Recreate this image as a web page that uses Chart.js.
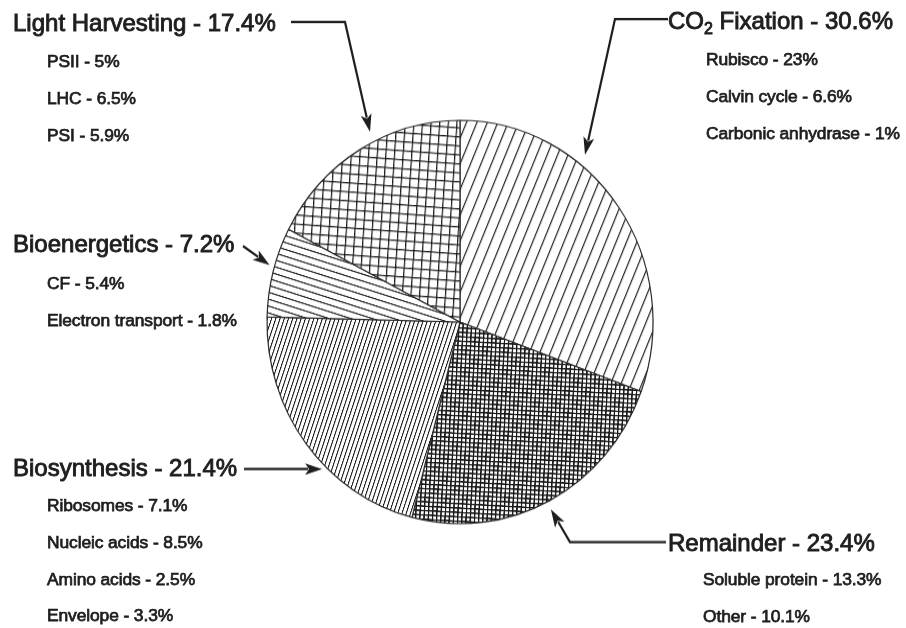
<!DOCTYPE html>
<html><head><meta charset="utf-8">
<script src="https://cdn.jsdelivr.net/npm/chart.js@4.4.0/dist/chart.umd.min.js"></script>
<style>
html,body{margin:0;padding:0;background:#fff;}
#wrap{position:relative;width:906px;height:628px;overflow:hidden;background:#fff;}
#c{position:absolute;left:0;top:0;transform-origin:460px 322px;transform:scaleY(1.045);}
.lbl{position:absolute;white-space:nowrap;color:#1e1e1e;font-family:"Liberation Sans",Arial,Helvetica,sans-serif;line-height:1;}
.main{font-size:24px;-webkit-text-stroke:0.9px #1e1e1e;}
.sub{font-size:17.4px;-webkit-text-stroke:0.75px #1e1e1e;letter-spacing:-0.1px;}
.main sub{font-size:16px;vertical-align:-5px;line-height:0;}
</style></head>
<body><div id="wrap"><canvas id="c" width="906" height="628"></canvas></div>
<script>
// ---- data ----
const categories = ['CO2 Fixation', 'Remainder', 'Biosynthesis', 'Bioenergetics', 'Light Harvesting'];
const shares = [30.6, 23.4, 21.4, 7.2, 17.4];

const co2Parts = ['Rubisco', 'Calvin cycle', 'Carbonic anhydrase'];
const co2Values = [23, 6.6, 1];
const remainderParts = ['Soluble protein', 'Other'];
const remainderValues = [13.3, 10.1];
const biosynthesisParts = ['Ribosomes', 'Nucleic acids', 'Amino acids', 'Envelope'];
const biosynthesisValues = [7.1, 8.5, 2.5, 3.3];
const bioenergeticsParts = ['CF', 'Electron transport'];
const bioenergeticsValues = [5.4, 1.8];
const lightHarvestingParts = ['PSII', 'LHC', 'PSI'];
const lightHarvestingValues = [5, 6.5, 5.9];

// ---- layout (positions only) ----
const CX = 460, CY = 322, SY = 1.045;
const labelLayout = [
  {i: 0, parts: co2Parts, values: co2Values, x: 668, base: 29, subX: 706, subBase: [66, 103, 140]},
  {i: 1, parts: remainderParts, values: remainderValues, x: 668, base: 551, subX: 703, subBase: [586, 623]},
  {i: 2, parts: biosynthesisParts, values: biosynthesisValues, x: 13, base: 476, subX: 47, subBase: [512, 549, 586, 622]},
  {i: 3, parts: bioenergeticsParts, values: bioenergeticsValues, x: 13, base: 252, subX: 47, subBase: [290, 327]},
  {i: 4, parts: lightHarvestingParts, values: lightHarvestingValues, x: 13, base: 31, subX: 47, subBase: [68, 105, 141.7]}
];
const arrowSpecs = [
  {index: 0, frac: 0.345, gap: 10, path: [[668, 19], [615, 19]]},
  {index: 1, frac: 0.51, gap: 8, path: [[666, 542], [570, 542]]},
  {index: 2, frac: 0.39, gap: 4, path: [[244, 469]]},
  {index: 3, frac: 0.56, gap: 5, path: [[243, 246]]},
  {index: 4, frac: 0.58, gap: 10, path: [[291, 22], [345, 22]]}
];

// ---- text labels ----
const wrap = document.getElementById('wrap');
function addLabel(html, cls, x, base, size) {
  const d = document.createElement('div');
  d.className = 'lbl ' + cls;
  d.innerHTML = html;
  d.style.left = x + 'px';
  d.style.top = (base - 0.8465 * size) + 'px';
  wrap.appendChild(d);
}
labelLayout.forEach(L => {
  const name = categories[L.i].replace('CO2', 'CO<sub>2</sub>');
  addLabel(name + ' - ' + shares[L.i] + '%', 'main', L.x, L.base, 24);
  L.parts.forEach((p, k) => addLabel(p + ' - ' + L.values[k] + '%', 'sub', L.subX, L.subBase[k], 17.4));
});

// ---- patterns ----
const ctx0 = document.getElementById('c').getContext('2d');
function makePattern(kind, spacing, angle, lw) {
  const n = 10;
  const t = document.createElement('canvas');
  t.width = n; t.height = n;
  const g = t.getContext('2d');
  g.fillStyle = '#fff'; g.fillRect(0, 0, n, n);
  g.fillStyle = '#1a1a1a';
  const w = lw * n / spacing;
  g.fillRect(0, 0, w, n);
  if (kind === 'grid') g.fillRect(0, 0, n, w);
  const p = ctx0.createPattern(t, 'repeat');
  p.setTransform(new DOMMatrix().rotateSelf(angle).scaleSelf(spacing / n));
  return p;
}
const fills = [
  makePattern('lines', 9.6, 23, 1.15),
  makePattern('grid', 4.2, 3, 1.45),
  makePattern('lines', 4.0, 19, 1.05),
  makePattern('lines', 6.3, 107, 1.15),
  makePattern('grid', 8.6, 4, 1.2)
];

// ---- arrows ----
function toCanvasY(y) { return CY + (y - CY) / SY; }
const arrowPlugin = {
  id: 'arrows',
  afterDatasetsDraw(chart) {
    const ctx = chart.ctx;
    const arcs = chart.getDatasetMeta(0).data;
    arrowSpecs.forEach(sp => {
      const arc = arcs[sp.index];
      const {x, y, startAngle, endAngle, outerRadius} = arc.getProps(['x', 'y', 'startAngle', 'endAngle', 'outerRadius'], true);
      const a = startAngle + (endAngle - startAngle) * sp.frac;
      const r = outerRadius + sp.gap;
      const tip = [x + r * Math.cos(a), y + r * Math.sin(a)];
      const pts = sp.path.map(p => [p[0], toCanvasY(p[1])]);
      const prev = pts[pts.length - 1];
      const ang = Math.atan2(tip[1] - prev[1], tip[0] - prev[0]);
      const L = 17, W = 5.5;
      const end = [tip[0] - (L - 3) * Math.cos(ang), tip[1] - (L - 3) * Math.sin(ang)];
      ctx.save();
      ctx.strokeStyle = '#1e1e1e'; ctx.fillStyle = '#1e1e1e';
      ctx.lineWidth = 2.2; ctx.lineJoin = 'miter';
      ctx.beginPath();
      ctx.moveTo(pts[0][0], pts[0][1]);
      for (let k = 1; k < pts.length; k++) ctx.lineTo(pts[k][0], pts[k][1]);
      ctx.lineTo(end[0], end[1]);
      ctx.stroke();
      ctx.beginPath();
      ctx.moveTo(tip[0], tip[1]);
      ctx.lineTo(tip[0] - L * Math.cos(ang) + W * Math.sin(ang), tip[1] - L * Math.sin(ang) - W * Math.cos(ang));
      ctx.lineTo(tip[0] - (L - 4) * Math.cos(ang), tip[1] - (L - 4) * Math.sin(ang));
      ctx.lineTo(tip[0] - L * Math.cos(ang) - W * Math.sin(ang), tip[1] - L * Math.sin(ang) + W * Math.cos(ang));
      ctx.closePath();
      ctx.fill();
      ctx.restore();
    });
  }
};

new Chart(document.getElementById('c'), {
  type: 'pie',
  data: {
    labels: categories,
    datasets: [{
      data: shares,
      backgroundColor: fills,
      borderColor: '#2a2a2a',
      borderWidth: 1.2,
      hoverOffset: 0,
      offset: 0
    }]
  },
  options: {
    responsive: false,
    animation: false,
    radius: 193,
    layout: {padding: {left: 267, right: 253, top: 129, bottom: 113}},
    plugins: {legend: {display: false}, tooltip: {enabled: false}},
    events: []
  },
  plugins: [arrowPlugin]
});
</script>
</body></html>
